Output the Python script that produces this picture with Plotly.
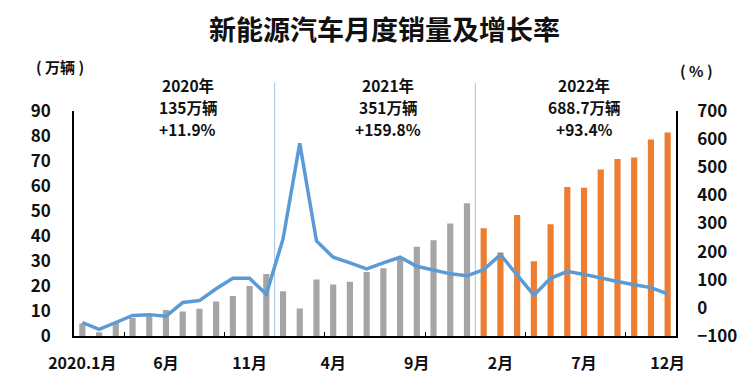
import plotly.graph_objects as go

years = ["2020", "2021", "2022"]
months = list(range(1, 13))
sales_2020 = [5.0, 1.5, 5.5, 7.2, 8.2, 10.4, 9.8, 10.9, 13.8, 16.0, 20.0, 24.8]
sales_2021 = [17.9, 11.0, 22.6, 20.6, 21.7, 25.6, 27.1, 31.0, 35.7, 38.3, 45.0, 53.1]
sales_2022 = [43.1, 33.4, 48.4, 29.9, 44.7, 59.6, 59.3, 66.6, 70.8, 71.4, 78.6, 81.4]
growth_2020 = [-52, -76, -52, -27, -24, -30, 19, 26, 68, 105, 105, 48]
growth_2021 = [245, 585, 238, 180, 160, 139, 160, 180, 148, 133, 121, 114]
growth_2022 = [136, 189, 117, 45, 105, 130, 119, 108, 94, 82, 72, 50]
tick_labels = ["2020.1月", "6月", "11月", "4月", "9月", "2月", "7月", "12月"]
year_notes = [
    ["2020年", "135万辆", "+11.9%"],
    ["2021年", "351万辆", "+159.8%"],
    ["2022年", "688.7万辆", "+93.4%"],
]

sales = sales_2020 + sales_2021 + sales_2022
growth = growth_2020 + growth_2021 + growth_2022
x = list(range(len(sales)))
bar_colors = ["#a5a5a5"] * 24 + ["#ed7d31"] * 12

FONT = "Noto Sans CJK SC"

fig = go.Figure()
fig.add_trace(go.Bar(x=x, y=sales, width=0.37, marker=dict(color=bar_colors, line=dict(width=0)),
                     yaxis="y", showlegend=False))
fig.add_trace(go.Scatter(x=x, y=growth, mode="lines", line=dict(color="#5b9bd5", width=3.5),
                         yaxis="y2", showlegend=False))

# year separators
for i in range(1, len(years)):
    xb = i * 12 - 0.5
    fig.add_shape(type="line", xref="x", yref="paper", x0=xb, x1=xb, y0=0, y1=1.125,
                  line=dict(color="#9dc3e6", width=1), layer="below")

# year notes
note_x = [6.3, 18.3, 30.0]
for xi, lines in zip(note_x, year_notes):
    for k, t in enumerate(lines):
        fig.add_annotation(x=xi, xref="x", y=1.0, yref="paper", yshift=26 - 22 * k, text=f"<b>{t}</b>",
                           showarrow=False, font=dict(family=FONT, size=15.5, color="#111"),
                           xanchor="center", yanchor="middle")

fig.add_annotation(xref="paper", yref="paper", x=-0.067, y=1.2, text="<b>( 万辆 )</b>",
                   showarrow=False, font=dict(family=FONT, size=15, color="#111"),
                   xanchor="left", yanchor="middle")
fig.add_annotation(xref="paper", yref="paper", x=1.003, y=1.18, text="<b>( % )</b>",
                   showarrow=False, font=dict(family=FONT, size=15, color="#111"),
                   xanchor="left", yanchor="middle")

fig.update_layout(
    width=753, height=383,
    margin=dict(l=66, r=85, t=103, b=55),
    paper_bgcolor="white", plot_bgcolor="white",
    title=dict(text="<b>新能源汽车月度销量及增长率</b>", x=0.5, xanchor="center", y=0.94, yanchor="middle",
               font=dict(family=FONT, size=27, color="#111")),
    bargap=0.6,
    xaxis=dict(range=[-0.5, len(sales) - 0.5], tickvals=list(range(0, 36, 5)), ticktext=[f"<b>{t}</b>" for t in tick_labels],
               ticks="", showline=True, linecolor="black", linewidth=1.5, showgrid=False, zeroline=False,
               tickfont=dict(family=FONT, size=16, color="#111"), ticklabelstandoff=12,
               minor=dict(ticks="inside", tick0=2.5, dtick=6, ticklen=4, tickcolor="black", showgrid=False)),
    yaxis=dict(range=[0, 90], dtick=10, showline=True, linecolor="black", linewidth=1.5, showgrid=False,
               zeroline=False, tickfont=dict(family=FONT, size=17, color="#111"), ticks="",
               tickprefix="<b>", ticksuffix="</b>", ticklabelstandoff=18),
    yaxis2=dict(range=[-100, 700], dtick=100, overlaying="y", side="right", showline=True, linecolor="black",
                linewidth=1.5, showgrid=False, zeroline=False, tickfont=dict(family=FONT, size=17, color="#111"),
                ticks="", tickprefix="<b>", ticksuffix="</b>", ticklabelstandoff=16),
)

fig.write_html("out.html")
